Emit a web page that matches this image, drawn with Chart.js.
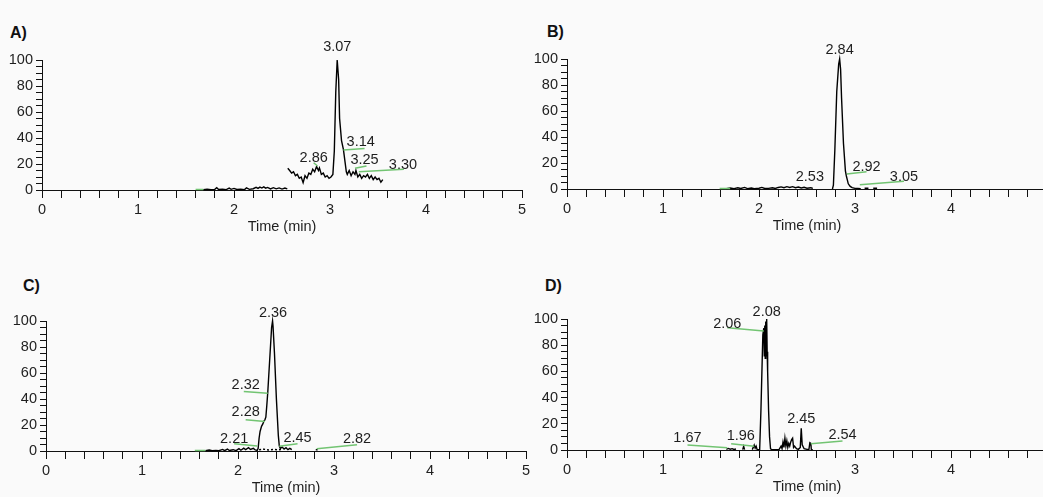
<!DOCTYPE html>
<html>
<head>
<meta charset="utf-8">
<script src="https://cdn.jsdelivr.net/npm/chart.js@4.4.1/dist/chart.umd.min.js"></script>
<style>
  html, body { margin: 0; padding: 0; background: #fafafa; overflow: hidden; }
  body { width: 1043px; height: 497px; position: relative; font-family: "Liberation Sans", Arial, sans-serif; }
  canvas { position: absolute; }
  .tag { position: absolute; font-weight: bold; font-size: 16px; line-height: 18px; color: #111; }
</style>
</head>
<body>
<div class="tag" style="left:10px;top:24px">A)</div>
<div class="tag" style="left:547px;top:23px">B)</div>
<div class="tag" style="left:23px;top:277px">C)</div>
<div class="tag" style="left:545px;top:277px">D)</div>
<canvas id="chartA" width="540" height="250" style="left:0;top:0"></canvas>
<canvas id="chartB" width="545" height="250" style="left:520px;top:0"></canvas>
<canvas id="chartC" width="540" height="250" style="left:0;top:260px"></canvas>
<canvas id="chartD" width="545" height="250" style="left:520px;top:260px"></canvas>
<script>
// axis ticks
const minuteTicks = [0, 1, 2, 3, 4, 5];
const intensityTicks = [0, 20, 40, 60, 80, 100];

// traces: [time (min), relative intensity]; null breaks the line
const traceA = [
  [1.68,0.3],[1.72,0.6],[1.76,0.2],[1.80,0.5],[1.82,1.8],[1.84,0.4],[1.88,0.6],[1.92,0.3],[1.95,1.5],[1.97,0.5],
  [2.00,1.2],[2.03,0.4],[2.07,0.6],[2.11,0.3],[2.13,1.6],[2.16,0.5],[2.20,1.0],[2.23,2.0],[2.25,1.2],[2.27,2.2],
  [2.29,1.5],[2.31,2.4],[2.33,1.4],[2.35,2.0],[2.38,0.8],[2.41,1.8],[2.44,0.9],[2.47,1.6],[2.50,0.7],[2.53,1.5],
  [2.555,0.8],[2.556,null],
  [2.56,16.7],[2.58,15],[2.60,13],[2.62,14],[2.64,11],[2.66,12],[2.68,9],[2.70,10],[2.72,5.6],[2.74,11],
  [2.76,9],[2.78,13],[2.80,12],[2.82,16],[2.84,14],[2.86,18],[2.88,15],[2.89,17],[2.91,12],[2.93,13],
  [2.95,10],[2.97,11],[2.99,9],[3.01,10],[3.03,12],[3.045,30],[3.06,75],[3.075,100],[3.09,85],[3.10,55],
  [3.12,38],[3.14,31],[3.17,14],[3.18,12],[3.20,15],[3.22,11],[3.24,14],[3.26,12],[3.27,15],[3.29,10],
  [3.31,12],[3.33,9],[3.35,11],[3.37,10],[3.39,12],[3.41,9],[3.43,11],[3.45,8],[3.47,10],[3.49,8],
  [3.51,9],[3.53,6],[3.55,8]
];
const traceB = [
  [1.66,0.3],[1.70,0.8],[1.74,0.3],[1.78,1.0],[1.81,0.4],[1.85,1.2],[1.88,0.3],[1.92,0.8],[1.95,0.2],[2.00,0.6],
  [2.03,1.2],[2.06,0.4],[2.10,0.5],[2.14,1.0],[2.17,0.4],[2.20,1.2],[2.23,1.6],[2.26,1.0],[2.29,1.8],[2.32,1.2],
  [2.35,1.8],[2.38,1.0],[2.41,1.5],[2.44,0.8],[2.47,1.3],[2.50,0.6],[2.54,1.0],[2.56,0.4],[2.57,null],
  [2.765,0],[2.775,3],[2.79,30],[2.81,75],[2.83,96],[2.84,100],[2.85,92],[2.86,70],[2.88,35],[2.90,14],
  [2.91,10],[2.92,7],[2.93,4],[2.95,2],[2.97,1],[3.00,0.5],[3.03,0.5],[3.06,0.3],[3.07,null],
  [3.10,0.6],[3.14,0.6],[3.15,null],[3.19,0.6],[3.23,0.6]
];
const traceC = [
  [1.66,0.3],[1.70,0.8],[1.73,0.2],[1.77,0.5],[1.80,0.2],[1.84,1.2],[1.86,0.3],[1.89,1.5],[1.91,0.4],[1.95,1.0],
  [1.98,0.3],[2.01,1.8],[2.03,0.6],[2.06,2.2],[2.08,1.0],[2.11,2.5],[2.13,1.2],[2.16,2.0],[2.18,0.8],[2.20,0.5],
  [2.21,2],[2.22,10],[2.23,15],[2.245,19],[2.26,21],[2.27,23],[2.28,24],[2.29,26],[2.30,35],[2.31,45],
  [2.33,70],[2.35,95],[2.36,100],[2.365,96],[2.38,75],[2.40,40],[2.42,12],[2.43,4],[2.44,2],[2.46,3],
  [2.48,1.5],[2.50,2.5],[2.52,1],[2.54,2],[2.56,1],[2.57,null],[2.81,1],[2.83,1]
];
const floorC = [[2.22,1.0],[2.27,1.4],[2.32,0.8],[2.37,1.2],[2.42,0.9],[2.46,1.1]];
const traceD = [
  [1.66,0.5],[1.68,1.2],[1.70,0.6],[1.72,1.0],[1.74,0.4],[1.76,0.8],[1.77,null],[1.83,0.3],[1.84,2.8],[1.85,0.3],
  [1.86,null],[1.93,0.3],[1.94,2.0],[1.95,3.8],[1.96,1.5],[1.97,3.0],[1.98,0.5],[2.00,0.3],[2.007,0.5],
  [2.02,30],[2.04,88],[2.05,93],[2.055,72],[2.06,95],[2.065,70],[2.07,98],[2.075,72],[2.08,100],[2.085,75],
  [2.09,60],[2.10,30],[2.11,10],[2.12,1],[2.13,0.3],[2.17,0.3],[2.21,0.5],
  [2.23,3],[2.24,1],[2.25,6],[2.26,2],[2.27,9],[2.28,3],[2.29,7],[2.30,2],[2.31,5],[2.32,3],
  [2.33,6],[2.34,8],[2.35,9],[2.36,2],[2.37,3],[2.39,1],[2.41,0.5],[2.43,2],[2.44,16.5],[2.45,4],
  [2.47,1],[2.50,0.5],[2.52,0.5],[2.53,5.5],[2.54,5],[2.545,0.5],[2.56,0.3]
];

// peak annotations: text, [time, intensity] of its centre
const peakTextA = ['3.07', '2.86', '3.14', '3.25', '3.30'];
const peakPosA = [[3.076,110],[2.83,25],[3.32,36.7],[3.36,23],[3.76,19]];
const peakTextB = ['2.84', '2.53', '2.92', '3.05'];
const peakPosB = [[2.84,107],[2.53,9.5],[3.12,17.2],[3.51,9.5]];
const peakTextC = ['2.36', '2.32', '2.28', '2.21', '2.45', '2.82'];
const peakPosC = [[2.365,106],[2.08,51],[2.08,30],[1.96,9.4],[2.62,10],[3.24,9.4]];
const peakTextD = ['2.08', '2.06', '1.67', '1.96', '2.45', '2.54'];
const peakPosD = [[2.08,105],[1.67,96.4],[1.255,8.9],[1.81,10.5],[2.44,23.4],[2.87,11.2]];

// green leader lines: [t1, y1, t2, y2]
const leadersA = [[1.60,0.4,1.68,0.4],[2.83,21,2.87,18.5],[3.14,30.8,3.36,32],[3.26,16.7,3.38,18.5],[3.30,14,3.77,16]];
const leadersB = [[1.59,0.4,1.70,0.4],[2.915,11.5,3.12,13.3],[3.05,3.3,3.51,5.9]];
const leadersC = [[1.55,0.4,1.66,0.4],[2.06,45.8,2.31,44.5],[2.08,24,2.28,22.6],[1.96,5.6,2.20,3.8],[2.43,3.6,2.62,5.6],[2.82,1.8,3.24,4.8]];
const leadersD = [[1.255,3.8,1.67,1.8],[1.71,4.8,1.95,2.8],[1.67,93.4,2.05,90.8],[2.54,4.8,2.87,6.9]];

Chart.defaults.font.family = '"Liberation Sans", Arial, sans-serif';
Chart.defaults.font.size = 14.5;
Chart.defaults.color = '#1e1e1e';

function peakPlugin(texts, positions, leaders) {
    return {
        id: 'peakLabels',
        afterDatasetsDraw(chart) {
            const { ctx, scales: { x, y } } = chart;
            ctx.save();
            ctx.strokeStyle = '#72c472';
            ctx.lineWidth = 1.5;
            leaders.forEach(([t1, v1, t2, v2]) => {
                ctx.beginPath();
                ctx.moveTo(x.getPixelForValue(t1), y.getPixelForValue(v1));
                ctx.lineTo(x.getPixelForValue(t2), y.getPixelForValue(v2));
                ctx.stroke();
            });
            ctx.fillStyle = '#1e1e1e';
            ctx.font = '14.5px "Liberation Sans", Arial, sans-serif';
            ctx.textAlign = 'center';
            ctx.textBaseline = 'middle';
            texts.forEach((t, i) => {
                ctx.fillText(t, x.getPixelForValue(positions[i][0]), y.getPixelForValue(positions[i][1]));
            });
            ctx.restore();
        }
    };
}

function toPoints(trace) {
    return trace.map(([t, v]) => ({ x: t, y: v }));
}

function makeChart(id, trace, texts, positions, leaders, box, floor) {
    const datasets = [{
        data: toPoints(trace),
        borderColor: '#000',
        borderWidth: 1.4,
        pointRadius: 0,
        tension: 0,
        spanGaps: false,
        clip: false
    }];
    if (floor) {
        datasets.push({
            data: toPoints(floor),
            borderColor: '#000',
            borderWidth: 1.4,
            borderDash: [2, 2],
            pointRadius: 0,
            clip: false
        });
    }
    return new Chart(document.getElementById(id), {
        type: 'line',
        data: { datasets },
        options: {
            responsive: false,
            animation: false,
            events: [],
            layout: { padding: { left: 0, top: box.top, right: box.right, bottom: box.bottom } },
            plugins: { legend: { display: false }, tooltip: { enabled: false } },
            scales: {
                x: {
                    type: 'linear',
                    min: 0,
                    max: 5,
                    border: { display: true, color: '#111', width: 1 },
                    grid: { drawOnChartArea: false, drawTicks: true, tickLength: 8, tickColor: '#111' },
                    ticks: {
                        stepSize: 0.2,
                        autoSkip: false,
                        maxRotation: 0,
                        padding: 3,
                        callback: v => minuteTicks.find(m => Math.abs(m - v) < 1e-6) !== undefined ? String(Math.round(v)) : ''
                    },
                    title: { display: true, text: 'Time (min)', font: { size: 14.5 }, padding: 0 },
                    afterFit: s => { s.height = box.xHeight; }
                },
                y: {
                    min: 0,
                    max: 100,
                    border: { display: true, color: '#111', width: 1 },
                    grid: { drawOnChartArea: false, drawTicks: true, tickLength: 6, tickColor: '#111' },
                    ticks: {
                        stepSize: 5,
                        autoSkip: false,
                        padding: 3,
                        callback: v => intensityTicks.includes(v) ? String(v) : ''
                    },
                    afterFit: s => { s.width = box.yWidth; }
                }
            }
        },
        plugins: [peakPlugin(texts, positions, leaders)]
    });
}

makeChart('chartA', traceA, peakTextA, peakPosA, leadersA,
    { top: 60, right: 18, bottom: 14, xHeight: 46, yWidth: 42 });
makeChart('chartB', traceB, peakTextB, peakPosB, leadersB,
    { top: 59, right: 18, bottom: 15, xHeight: 46, yWidth: 47 });
makeChart('chartC', traceC, peakTextC, peakPosC, leadersC,
    { top: 61, right: 14, bottom: 13, xHeight: 46, yWidth: 46 }, floorC);
makeChart('chartD', traceD, peakTextD, peakPosD, leadersD,
    { top: 59, right: 18, bottom: 14, xHeight: 46, yWidth: 47 });
</script>
</body>
</html>
